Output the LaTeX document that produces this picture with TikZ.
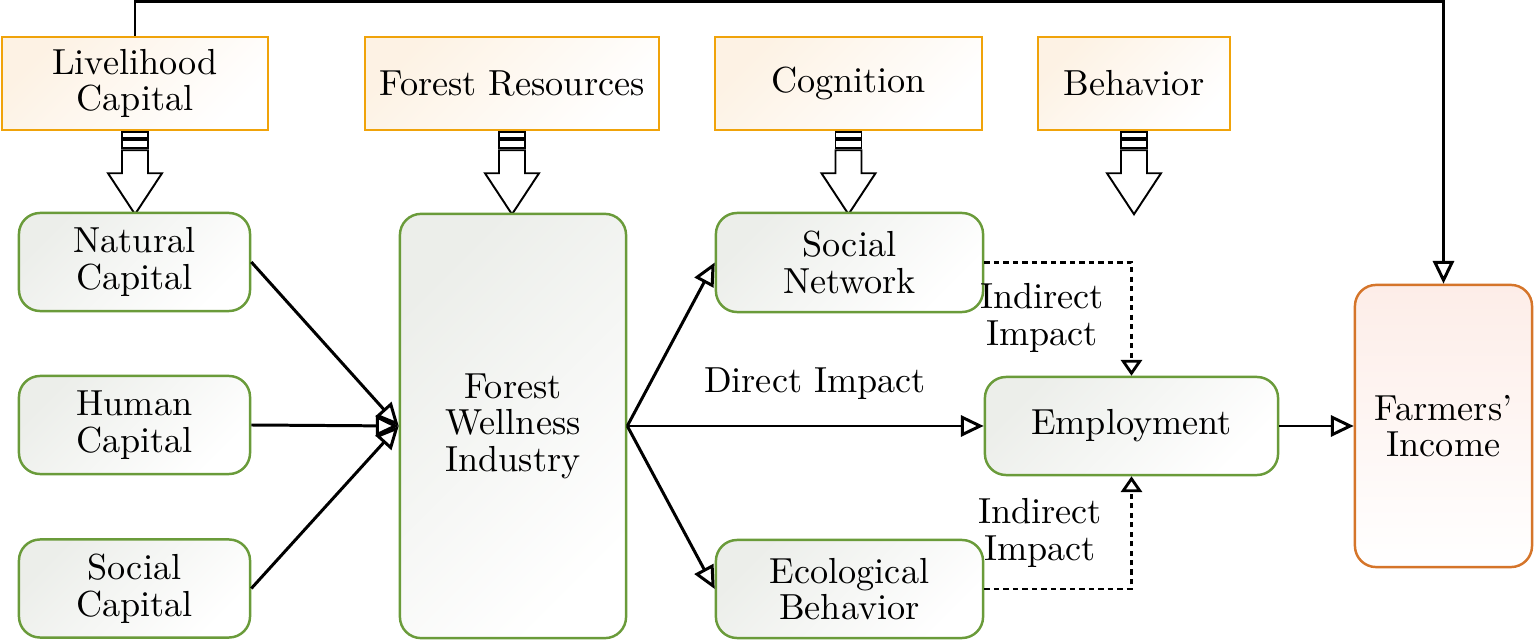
\documentclass[tikz,border=0pt]{standalone}
\usepackage{tikz}
\usetikzlibrary{arrows.meta}

\definecolor{factorline}{HTML}{F0A30A}
\definecolor{factorfill}{HTML}{FDF2E4}
\definecolor{pathline}{HTML}{6A9B3A}
\definecolor{pathfill}{HTML}{ECEEEA}
\definecolor{incomeline}{HTML}{D5752A}
\definecolor{incomefill}{HTML}{FDEDE8}

\begin{document}
\begin{tikzpicture}[x = 0.01cm, y = -0.01cm, line width = 0.85pt,
                    font = \fontsize{10.3}{10.4}\selectfont,
                    factor/.style = {draw = factorline, line width = 0.7pt, top color = factorfill, bottom color = white, shading angle = 45, minimum height = 0.93cm, align = center, inner sep = 0pt},
                    capital/.style = {draw = pathline, line width = 0.7pt, rounded corners = 6pt, top color = pathfill, bottom color = white, shading angle = 45, minimum width = 2.31cm, minimum height = 0.98cm, align = center, inner sep = 0pt},
                    income/.style = {draw = incomeline, line width = 0.7pt, rounded corners = 6pt, top color = incomefill, bottom color = white, minimum width = 1.77cm, minimum height = 2.82cm, align = center, inner sep = 0pt},
                    arr/.style = {-{Triangle[open, length = 6.5pt, width = 6pt]}},
                    dasharr/.style = {line width = 0.8pt, dash pattern = on 1.5pt off 1.2pt, -{Triangle[open, length = 4.5pt, width = 6pt]}},
                    blockarr/.style = {line width = 0.55pt, fill = white}]

\useasboundingbox (0,0) rectangle (1535,640);

% influencing factors
\node [factor, minimum width = 2.66cm] (LC) at (135,83.5) {Livelihood\\Capital};
\node [factor, minimum width = 2.94cm] (FR) at (512,83.5) {Forest Resources};
\node [factor, minimum width = 2.67cm] (CG) at (848.5,83.5) {Cognition};
\node [factor, minimum width = 1.92cm] (BH) at (1134,83.5) {Behavior};

% block arrows
\foreach \n in {LC, FR, CG, BH} {
  \draw[blockarr] (\n.south) ++(-13,1) rectangle ++(26,6);
  \draw[blockarr] (\n.south) ++(-13,9) rectangle ++(26,8);
  \draw[blockarr] (\n.south) ++(-13,19) -- ++(26,0) -- ++(0,23) -- ++(14,0)
                  -- ++(-27,41) -- ++(-27,-41) -- ++(14,0) -- cycle;
}

% livelihood capital
\node [capital] (NC) at (134.5,262) {Natural\\Capital};
\node [capital] (HC) at (134.5,425) {Human\\Capital};
\node [capital] (SC) at (134.5,588.5) {Social\\Capital};

% industry and paths
\node [capital, minimum width = 2.26cm, minimum height = 4.24cm] (FWI) at (513,426) {Forest\\Wellness\\Industry};
\node [capital, minimum width = 2.67cm, minimum height = 0.99cm] (SN) at (849.5,262.5) {Social\\Network};
\node [capital, minimum width = 2.67cm] (EB) at (849.5,589) {Ecological\\Behavior};
\node [capital, minimum width = 2.93cm] (EMP) at (1131.5,426) {Employment};
\node [income] (FI) at (1443.5,426) {Farmers'\\Income};

% labels
\node (DI) at (815,384) {Direct Impact};
\node [align = center] (II1) at (1042,318) {Indirect\\Impact};
\node [align = center] (II2) at (1040,533) {Indirect\\Impact};

\draw[arr] (NC.east) -- (FWI.west);
\draw[arr] (HC.east) -- (FWI.west);
\draw[arr] (SC.east) -- (FWI.west);
\draw[arr] (FWI.east) -- (SN.west);
\draw[arr] (FWI.east) -- (EB.west);
\draw[arr] (FWI.east) -- (EMP.west);
\draw[arr] (EMP.east) -- (FI.west);
\draw[arr] (LC.north) -- ++(0,-34) -| (FI.north);
\draw[dasharr] (SN.east) -| (EMP.north);
\draw[dasharr] (EB.east) -| (EMP.south);
\end{tikzpicture}
\end{document}
